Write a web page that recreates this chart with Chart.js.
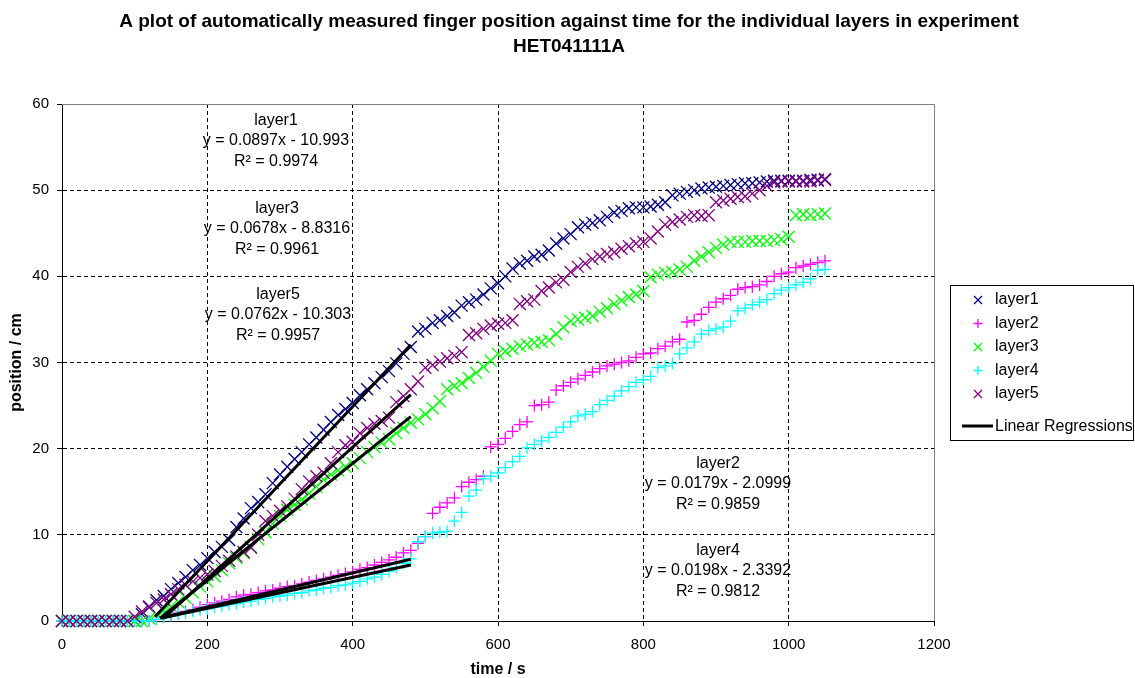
<!DOCTYPE html>
<html>
<head>
<meta charset="utf-8">
<title>finger position</title>
<script src="https://cdn.jsdelivr.net/npm/chart.js@4.4.0/dist/chart.umd.min.js"></script>
<style>
html, body { margin: 0; padding: 0; background: #fff; }
#wrap { position: relative; width: 1135px; height: 678px; }
</style>
</head>
<body>
<div id="wrap"><canvas id="chart" width="1135" height="678"></canvas></div>
<script>
// sample times (s)
var time = [
	0, 10, 20, 30, 40, 50, 60, 70, 80, 90,
	100, 110, 120, 130, 140, 150, 160, 170, 180, 190,
	200, 210, 220, 230, 240, 250, 260, 270, 280, 290,
	300, 310, 320, 330, 340, 350, 360, 370, 380, 390,
	400, 410, 420, 430, 440, 450, 460, 470, 480, 490,
	500, 510, 520, 530, 540, 550, 560, 570, 580, 590,
	600, 610, 620, 630, 640, 650, 660, 670, 680, 690,
	700, 710, 720, 730, 740, 750, 760, 770, 780, 790,
	800, 810, 820, 830, 840, 850, 860, 870, 880, 890,
	900, 910, 920, 930, 940, 950, 960, 970, 980, 990,
	1000, 1010, 1020, 1030, 1040, 1050
];

// finger position (cm) per layer
var layer1 = [
	0, 0, 0, 0, 0, 0, 0, 0, 0, 0,
	0, 0.8, 1.6, 2.4, 2.9, 3.7, 4.4, 5.1, 5.9, 6.5,
	7.3, 8.0, 8.6, 9.4, 10.9, 11.9, 13.1, 13.8, 14.7, 16.0,
	17.0, 17.9, 18.8, 19.6, 20.5, 21.3, 22.2, 23.1, 23.9, 24.6,
	25.3, 26.2, 26.9, 27.6, 28.3, 29.0, 29.9, 31.0, 31.8, 33.6,
	33.9, 34.6, 34.9, 35.4, 35.8, 36.6, 37.0, 37.3, 37.9, 38.6,
	39.2, 40.0, 40.9, 41.5, 41.8, 42.3, 42.5, 43.0, 43.8, 44.4,
	44.9, 45.7, 46.0, 46.2, 46.5, 46.9, 47.4, 47.6, 47.9, 48.0,
	48.0, 48.1, 48.3, 48.6, 49.4, 49.6, 49.8, 50.0, 50.2, 50.3,
	50.4, 50.5, 50.6, 50.7, 50.8, 50.8, 50.9, 51.0, 51.1, 51.1,
	51.1, 51.1, 51.1, 51.2, 51.2, 51.2
];
var layer2 = [
	0, 0, 0, 0, 0, 0, 0, 0, 0, 0,
	0, 0, 0, 0.2, 0.5, 0.7, 0.9, 1.1, 1.3, 1.6,
	1.9, 2.1, 2.3, 2.5, 2.8, 3.0, 3.1, 3.3, 3.5, 3.6,
	3.8, 4.0, 4.1, 4.3, 4.5, 4.7, 4.9, 5.1, 5.3, 5.5,
	5.7, 6.0, 6.2, 6.5, 6.8, 7.1, 7.4, 7.9, 8.2, 9.0,
	9.8, 12.5, 13.2, 13.7, 14.3, 15.6, 16.1, 16.4, 16.8, 20.2,
	20.5, 21.2, 22.0, 22.8, 23.1, 25.0, 25.1, 25.4, 26.8, 27.3,
	27.7, 28.1, 28.5, 28.9, 29.3, 29.6, 29.8, 30.0, 30.2, 30.6,
	31.0, 31.1, 31.6, 31.9, 32.4, 32.7, 34.7, 34.9, 35.6, 36.4,
	37.0, 37.4, 37.8, 38.5, 38.7, 38.8, 39.0, 39.4, 40.0, 40.3,
	40.5, 41.0, 41.2, 41.4, 41.6, 41.8
];
var layer3 = [
	0, 0, 0, 0, 0, 0, 0, 0, 0, 0,
	0, 0, 0.3, 0.8, 1.2, 1.7, 2.2, 2.7, 3.3, 4.0,
	4.6, 5.2, 5.9, 6.7, 7.3, 7.9, 8.6, 9.5, 10.3, 11.3,
	12.2, 12.9, 13.5, 14.1, 14.8, 15.6, 16.4, 17.0, 17.5, 17.9,
	18.3, 18.9, 19.6, 20.2, 20.7, 21.1, 21.8, 22.4, 23.0, 23.4,
	24.0, 24.7, 25.5, 26.9, 27.3, 27.6, 28.2, 28.8, 29.5, 30.2,
	31.0, 31.3, 31.6, 31.9, 32.1, 32.3, 32.4, 32.6, 33.3, 34.1,
	34.8, 35.0, 35.2, 35.4, 35.9, 36.3, 36.8, 37.2, 37.6, 37.9,
	38.3, 39.9, 40.2, 40.4, 40.5, 40.8, 41.1, 41.8, 42.3, 42.8,
	43.3, 43.7, 44.0, 44.0, 44.0, 44.1, 44.1, 44.1, 44.2, 44.3,
	44.6, 47.1, 47.2, 47.1, 47.2, 47.3
];
var layer4 = [
	0, 0, 0, 0, 0, 0, 0, 0, 0, 0,
	0, 0, 0, 0.2, 0.4, 0.6, 0.8, 0.9, 1.1, 1.3,
	1.4, 1.6, 1.7, 1.9, 2.0, 2.2, 2.3, 2.5, 2.6, 2.8,
	2.9, 3.0, 3.2, 3.3, 3.5, 3.6, 3.8, 3.9, 4.1, 4.2,
	4.4, 4.6, 4.9, 5.1, 5.4, 5.8, 6.2, 6.7, 7.2, 9.2,
	9.8, 10.2, 10.3, 10.4, 11.6, 12.6, 14.5, 15.2, 16.5, 16.8,
	17.2, 17.8, 18.5, 19.1, 20.1, 20.5, 20.9, 21.3, 21.9, 22.5,
	23.1, 23.8, 24.0, 24.3, 25.1, 25.6, 26.1, 26.7, 27.2, 27.7,
	28.0, 28.4, 29.4, 29.6, 29.9, 31.0, 31.7, 32.4, 33.3, 33.7,
	33.9, 34.1, 34.8, 36.0, 36.3, 36.7, 37.0, 37.3, 38.0, 38.4,
	38.7, 39.0, 39.3, 39.7, 40.7, 40.8
];
var layer5 = [
	0, 0, 0, 0, 0, 0, 0, 0, 0, 0,
	0.5, 1.1, 1.7, 2.1, 2.5, 3.1, 3.7, 4.2, 4.6, 5.0,
	5.4, 5.8, 6.4, 7.0, 7.5, 8.0, 8.5, 10.0, 11.6, 12.2,
	12.8, 13.3, 14.2, 15.3, 16.2, 16.8, 17.2, 18.3, 19.6, 20.4,
	20.8, 21.8, 22.4, 22.9, 23.2, 23.6, 25.4, 26.1, 26.9, 27.8,
	29.4, 29.7, 30.1, 30.5, 30.8, 31.2, 33.2, 33.4, 33.9, 34.3,
	34.5, 34.6, 34.9, 36.8, 37.1, 37.3, 38.3, 38.7, 39.3, 39.6,
	40.5, 41.1, 41.5, 42.0, 42.3, 42.6, 42.8, 43.2, 43.5, 43.8,
	44.0, 44.4, 45.2, 46.0, 46.3, 46.6, 46.9, 47.1, 47.0, 47.1,
	48.6, 48.8, 49.0, 49.2, 49.3, 49.6, 50.0, 50.5, 50.9, 51.0,
	51.0, 51.0, 51.0, 51.0, 51.1, 51.3
];

var layerNames = ['layer1', 'layer2', 'layer3', 'layer4', 'layer5'];

// linear regressions (y = a x + b), fitted between fitStart and fitEnd
var fitSlope = [0.0897, 0.0179, 0.0678, 0.0198, 0.0762];
var fitIntercept = [-10.993, -2.0999, -8.8316, -2.3392, -10.303];
var fitR2 = ['0.9974', '0.9859', '0.9961', '0.9812', '0.9957'];
var fitStart = [128, 137, 135, 136, 140];
var fitEnd = [480, 480, 480, 480, 480];

var xTicks = [0, 200, 400, 600, 800, 1000, 1200];
var yTicks = [0, 10, 20, 30, 40, 50, 60];

var titleLines = [
	'A plot of automatically measured finger position against time for the individual layers in experiment',
	'HET041111A'
];

// styling
var FONT = '"Liberation Sans", Arial, sans-serif';
var colors = ['#000080', '#ff00ff', '#00ff00', '#00ffff', '#800080'];
var styles = ['crossRot', 'cross', 'crossRot', 'cross', 'crossRot'];
var radii = [8.5, 6, 8.5, 6, 8.5];

// where the equation boxes sit (canvas px, centre of first line)
var eqLabelPos = {
	layer1: [276, 120.5],
	layer3: [277, 208.5],
	layer5: [278, 294.5],
	layer2: [718, 463.5],
	layer4: [718, 550.5]
};

var series = [layer1, layer2, layer3, layer4, layer5];
var datasets = [];

for (var i = 0; i < series.length; i++) {
	var pts = [];
	for (var j = 0; j < time.length; j++) {
		pts.push({x: time[j], y: series[i][j]});
	}
	datasets.push({
		label: layerNames[i],
		data: pts,
		showLine: false,
		pointStyle: styles[i],
		pointRadius: radii[i],
		pointBorderWidth: 1.3,
		pointBorderColor: colors[i],
		pointBackgroundColor: colors[i],
		order: 10 - i,
		clip: false
	});
}

// regression lines
for (var k = 0; k < fitSlope.length; k++) {
	datasets.push({
		label: 'fit ' + layerNames[k],
		data: [
			{x: fitStart[k], y: fitSlope[k] * fitStart[k] + fitIntercept[k]},
			{x: fitEnd[k], y: fitSlope[k] * fitEnd[k] + fitIntercept[k]}
		],
		showLine: true,
		borderColor: '#000',
		borderWidth: 3,
		pointRadius: 0,
		order: 0,
		clip: false
	});
}

var eqText = function(i) {
	var b = fitIntercept[i];
	return 'y = ' + fitSlope[i] + 'x ' + (b < 0 ? '- ' : '+ ') + Math.abs(b);
};

var hideEdge = function(max) {
	return function(ctx) {
		var v = ctx.tick ? ctx.tick.value : null;
		return (v === 0 || v === max) ? 'rgba(0,0,0,0)' : '#000';
	};
};

var drawMark = function(ctx, style, x, y, r) {
	ctx.beginPath();
	if (style === 'cross') {
		ctx.moveTo(x - r, y); ctx.lineTo(x + r, y);
		ctx.moveTo(x, y - r); ctx.lineTo(x, y + r);
	} else {
		ctx.moveTo(x - r, y - r); ctx.lineTo(x + r, y + r);
		ctx.moveTo(x - r, y + r); ctx.lineTo(x + r, y - r);
	}
	ctx.stroke();
};

var decor = {
	id: 'decor',
	beforeDatasetsDraw: function(chart) {
		var ctx = chart.ctx, a = chart.chartArea;
		ctx.save();
		ctx.strokeStyle = '#808080';
		ctx.lineWidth = 1;
		ctx.beginPath();
		ctx.moveTo(a.left, Math.round(a.top) + 0.5);
		ctx.lineTo(Math.round(a.right) + 0.5, Math.round(a.top) + 0.5);
		ctx.lineTo(Math.round(a.right) + 0.5, a.bottom);
		ctx.stroke();
		ctx.restore();
	},
	afterDraw: function(chart) {
		var ctx = chart.ctx;
		ctx.save();
		ctx.fillStyle = '#000';
		ctx.textAlign = 'center';
		ctx.textBaseline = 'middle';

		// title
		ctx.font = 'bold 19px ' + FONT;
		ctx.fillText(titleLines[0], 569, 22);
		ctx.fillText(titleLines[1], 569, 46.5);

		// regression equations
		ctx.font = '16px ' + FONT;
		for (var i = 0; i < layerNames.length; i++) {
			var p = eqLabelPos[layerNames[i]];
			ctx.fillText(layerNames[i], p[0], p[1]);
			ctx.fillText(eqText(i), p[0], p[1] + 20.5);
			ctx.fillText('R\u00b2 = ' + fitR2[i], p[0], p[1] + 41.5);
		}

		// legend
		ctx.strokeStyle = '#000';
		ctx.lineWidth = 1;
		ctx.strokeRect(950.5, 285.5, 183, 155);
		ctx.textAlign = 'left';
		for (var n = 0; n < layerNames.length; n++) {
			var ly = 300 + n * 23.5;
			ctx.strokeStyle = colors[n];
			ctx.lineWidth = 1.3;
			drawMark(ctx, styles[n], 978, ly, styles[n] === 'cross' ? 4.5 : 4);
			ctx.fillText(layerNames[n], 995, ly);
		}
		ctx.strokeStyle = '#000';
		ctx.lineWidth = 3;
		ctx.beginPath();
		ctx.moveTo(962, 426);
		ctx.lineTo(993, 426);
		ctx.stroke();
		ctx.fillText('Linear Regressions', 995, 427);
		ctx.restore();
	}
};

var plainTick = function(v) { return String(v); };

new Chart(document.getElementById('chart'), {
	type: 'scatter',
	data: {datasets: datasets},
	options: {
		responsive: false,
		animation: false,
		events: [],
		layout: {padding: {left: 0, top: 104, right: 201, bottom: 0}},
		plugins: {
			legend: {display: false},
			title: {display: false},
			tooltip: {enabled: false}
		},
		scales: {
			x: {
				type: 'linear',
				min: 0,
				max: 1200,
				afterFit: function(scale) { scale.height = 57; },
				afterBuildTicks: function(scale) {
					scale.ticks = xTicks.map(function(v) { return {value: v}; });
				},
				ticks: {color: '#000', font: {size: 15, family: FONT}, padding: 10, maxRotation: 0, callback: plainTick},
				grid: {color: hideEdge(1200), lineWidth: 1, tickColor: '#000', tickLength: 5, tickBorderDash: []},
				border: {display: true, color: '#000', width: 1, dash: [4, 3]},
				title: {display: true, text: 'time / s', color: '#000', font: {size: 16, weight: 'bold', family: FONT, lineHeight: 1}, padding: {top: 0, bottom: 0}}
			},
			y: {
				type: 'linear',
				min: 0,
				max: 60,
				afterFit: function(scale) { scale.width = 62; },
				afterBuildTicks: function(scale) {
					scale.ticks = yTicks.map(function(v) { return {value: v}; });
				},
				ticks: {color: '#000', font: {size: 15, family: FONT}, padding: 8, callback: plainTick},
				grid: {color: hideEdge(60), lineWidth: 1, tickColor: '#000', tickLength: 5, tickBorderDash: []},
				border: {display: true, color: '#000', width: 1, dash: [4, 3]},
				title: {display: true, text: 'position / cm', color: '#000', font: {size: 16, weight: 'bold', family: FONT, lineHeight: 1}, padding: {top: 9, bottom: 0}}
			}
		}
	},
	plugins: [decor]
});
</script>
</body>
</html>
